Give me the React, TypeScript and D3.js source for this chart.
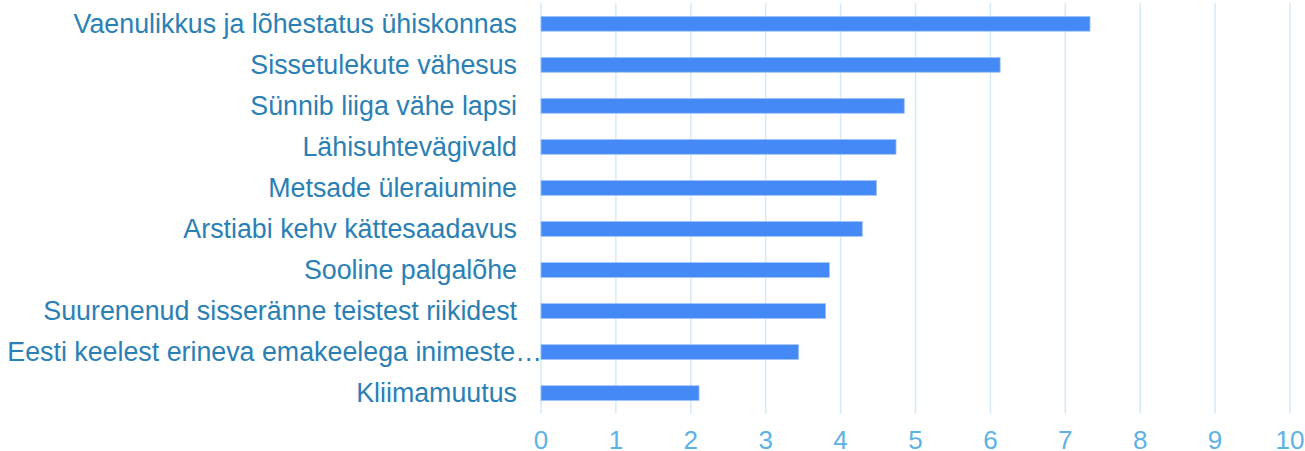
import React from "react";
import * as d3 from "d3";

const categories = [
  "Vaenulikkus ja lõhestatus ühiskonnas",
  "Sissetulekute vähesus",
  "Sünnib liiga vähe lapsi",
  "Lähisuhtevägivald",
  "Metsade üleraiumine",
  "Arstiabi kehv kättesaadavus",
  "Sooline palgalõhe",
  "Suurenenud sisseränne teistest riikidest",
  "Eesti keelest erineva emakeelega inimeste…",
  "Kliimamuutus",
];
const values = [7.33, 6.13, 4.85, 4.74, 4.48, 4.29, 3.85, 3.8, 3.44, 2.11];
const ticks = [0, 1, 2, 3, 4, 5, 6, 7, 8, 9, 10];

const W = 1305;
const H = 451;
const left = 541;
const right = 1290;
const top = 3.3;
const bottom = 413.6;

export default function App() {
  const x = d3.scaleLinear().domain([0, 10]).range([left, right]);
  const y = d3
    .scaleBand<string>()
    .domain(categories)
    .range([top, bottom])
    .paddingInner(0.64)
    .paddingOuter(0.32);
  const font = "'Liberation Sans', Arial, sans-serif";
  return (
    <svg
      width={W}
      height={H}
      style={{ position: "absolute", left: 0, top: 0, display: "block" }}
    >
      <rect width={W} height={H} fill="#ffffff" />
      {ticks.map((t) => (
        <line
          key={"g" + t}
          x1={x(t)}
          x2={x(t)}
          y1={top}
          y2={bottom}
          stroke="#d5eaf7"
          strokeWidth={1.5}
        />
      ))}
      {categories.map((c, i) => (
        <rect
          key={"b" + c}
          x={x(0)}
          y={y(c)}
          width={x(values[i]) - x(0)}
          height={y.bandwidth()}
          fill="#4489f5"
          stroke="#9dc2fa"
          strokeWidth={0.8}
        />
      ))}
      {categories.map((c) => {
        const trunc = c.endsWith("…");
        return (
          <text
            key={"l" + c}
            x={trunc ? left + 1 : left - 24}
            y={(y(c) as number) + y.bandwidth() / 2}
            dy="0.35em"
            textAnchor="end"
            fontFamily={font}
            fontSize={26.8}
            fill="#2a80b4"
          >
            {c}
          </text>
        );
      })}
      {ticks.map((t) => (
        <text
          key={"t" + t}
          x={x(t)}
          y={448.5}
          textAnchor="middle"
          fontFamily={font}
          fontSize={26}
          fill="#5cb2e4"
        >
          {t}
        </text>
      ))}
    </svg>
  );
}
